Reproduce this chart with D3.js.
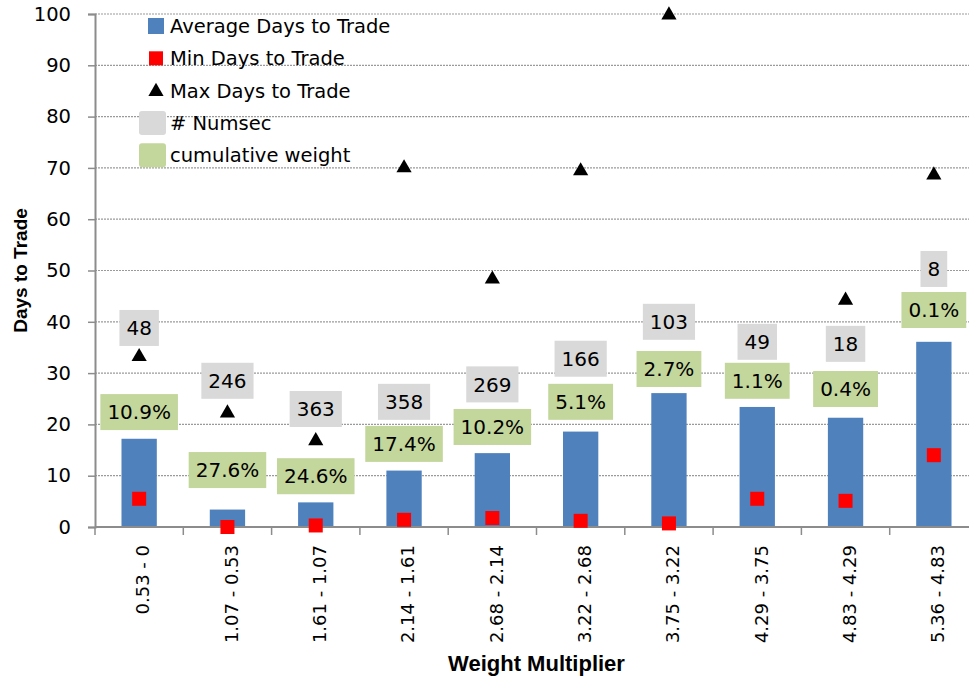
<!DOCTYPE html>
<html>
<head>
<meta charset="utf-8">
<script src="https://cdn.jsdelivr.net/npm/d3@7"></script>
<style>
  body { margin: 0; background: #fff; }
  svg { display: block; font-family: "DejaVu Sans", sans-serif; }
</style>
</head>
<body>
<script>
// chart values
var categories = ["0.53 - 0", "1.07 - 0.53", "1.61 - 1.07", "2.14 - 1.61", "2.68 - 2.14",
                  "3.22 - 2.68", "3.75 - 3.22", "4.29 - 3.75", "4.83 - 4.29", "5.36 - 4.83"];
var avgDays = [17.2, 3.4, 4.8, 11.0, 14.4, 18.6, 26.1, 23.4, 21.3, 36.1];
var minDays = [5.5, 0, 0.3, 1.4, 1.75, 1.2, 0.7, 5.5, 5.1, 14.0];
var maxDays = [33.2, 22.2, 16.8, 70, 48.3, 69.4, 99.8, null, 44.2, 68.6];
var numsec = [48, 246, 363, 358, 269, 166, 103, 49, 18, 8];
var cumWeight = [10.9, 27.6, 24.6, 17.4, 10.2, 5.1, 2.7, 1.1, 0.4, 0.1];
// where the label boxes sit, in days (hidden anchor series)
var numsecLabelAt = [38.8, 28.5, 23.0, 24.4, 27.8, 32.8, 40.0, 36.1, 35.7, 50.3];
var weightLabelAt = [22.4, 11.1, 9.9, 16.2, 19.5, 24.4, 30.8, 28.5, 26.9, 42.3];
var yTicks = [0, 10, 20, 30, 40, 50, 60, 70, 80, 90, 100];

var svgWidth = 969, svgHeight = 677;
var plotLeft = 95, plotRight = 978, plotTop = 14, plotBottom = 527;

var svg = d3.select("body").append("svg")
    .attr("width", svgWidth)
    .attr("height", svgHeight);

var xScale = d3.scaleBand()
    .domain(categories)
    .range([plotLeft, plotRight])
    .paddingInner(0.6)
    .paddingOuter(0.3);
var band = d3.scaleBand().domain(categories).range([plotLeft, plotRight]);
var yScale = d3.scaleLinear()
    .domain([0, 100])
    .range([plotBottom, plotTop]);

function cx(i) { return band(categories[i]) + band.bandwidth() / 2; }

// gridlines
svg.append("g").selectAll("line")
    .data(yTicks.filter(function(d){ return d > 0; }))
    .enter().append("line")
    .attr("x1", plotLeft).attr("x2", plotRight)
    .attr("y1", function(d){ return yScale(d); })
    .attr("y2", function(d){ return yScale(d); })
    .attr("stroke", "#9a9a9a")
    .attr("stroke-width", 1.2)
    .attr("stroke-dasharray", "2,1");

// y axis
var yAxis = svg.append("g")
    .attr("transform", "translate(" + plotLeft + ",0)")
    .call(d3.axisLeft(yScale).tickValues(yTicks).tickSize(7).tickPadding(17));
yAxis.select(".domain").attr("stroke", "#8c8c8c").attr("stroke-width", 2);
yAxis.selectAll(".tick line").attr("stroke", "#8c8c8c").attr("stroke-width", 1.5);
yAxis.selectAll(".tick text")
    .attr("font-family", "DejaVu Sans")
    .attr("font-size", "19.5px")
    .attr("fill", "#000");

// bars
svg.append("g").selectAll("rect")
    .data(avgDays)
    .enter().append("rect")
    .attr("x", function(d, i){ return xScale(categories[i]); })
    .attr("y", function(d){ return yScale(d); })
    .attr("width", xScale.bandwidth())
    .attr("height", function(d){ return plotBottom - yScale(d); })
    .attr("fill", "#4f81bd");

// x axis
svg.append("line")
    .attr("x1", plotLeft).attr("x2", plotRight)
    .attr("y1", plotBottom).attr("y2", plotBottom)
    .attr("stroke", "#8c8c8c").attr("stroke-width", 2);
svg.append("g").selectAll("line")
    .data(categories.concat(["end"]))
    .enter().append("line")
    .attr("x1", function(d, i){ return plotLeft + i * band.step(); })
    .attr("x2", function(d, i){ return plotLeft + i * band.step(); })
    .attr("y1", plotBottom).attr("y2", plotBottom + 8)
    .attr("stroke", "#8c8c8c").attr("stroke-width", 1.5);
svg.append("g").selectAll("text")
    .data(categories)
    .enter().append("text")
    .attr("transform", function(d, i){ return "translate(" + (cx(i) + 4) + "," + (plotBottom + 18) + ") rotate(-90)"; })
    .attr("text-anchor", "end")
    .attr("dy", "0.35em")
    .attr("font-size", "18px")
    .text(function(d){ return d; });

// min squares
svg.append("g").selectAll("rect")
    .data(minDays)
    .enter().append("rect")
    .attr("x", function(d, i){ return cx(i) - 7; })
    .attr("y", function(d){ return yScale(d) - 7; })
    .attr("width", 14).attr("height", 14)
    .attr("fill", "#ff0000");

// max triangles
var tri = d3.symbol().type(d3.symbolTriangle).size(100);
svg.append("g").selectAll("path")
    .data(maxDays.map(function(d, i){ return {v: d, i: i}; }).filter(function(d){ return d.v !== null; }))
    .enter().append("path")
    .attr("d", tri)
    .attr("transform", function(d){ return "translate(" + cx(d.i) + "," + yScale(d.v) + ")"; })
    .attr("fill", "#000");

// boxed data labels
function boxLabels(values, anchors, fmt, color) {
    var g = svg.append("g");
    values.forEach(function(v, i) {
        var lab = g.append("g")
            .attr("transform", "translate(" + cx(i) + "," + yScale(anchors[i]) + ")");
        var r = lab.append("rect").attr("fill", color);
        var t = lab.append("text")
            .attr("text-anchor", "middle")
            .attr("dy", "0.36em")
            .attr("font-size", "20px")
            .attr("fill", "#000")
            .text(fmt(v));
        var w = t.node().getComputedTextLength() + 14;
        r.attr("x", -w / 2).attr("y", -18).attr("width", w).attr("height", 36);
    });
}
boxLabels(numsec, numsecLabelAt, function(d){ return d; }, "#d9d9d9");
boxLabels(cumWeight, weightLabelAt, function(d){ return d.toFixed(1) + "%"; }, "#c3d69b");

// legend
var legendItems = ["Average Days to Trade", "Min Days to Trade", "Max Days to Trade", "# Numsec", "cumulative weight"];
var legend = svg.append("g");
legendItems.forEach(function(name, i) {
    var y = 26 + i * 32.3;
    var item = legend.append("g").attr("transform", "translate(0," + y + ")");
    if (i === 0) item.append("rect").attr("x", 148).attr("y", -8).attr("width", 16).attr("height", 16).attr("fill", "#4f81bd");
    if (i === 1) item.append("rect").attr("x", 149).attr("y", -7).attr("width", 14).attr("height", 14).attr("fill", "#ff0000");
    if (i === 2) item.append("path").attr("d", tri).attr("transform", "translate(156,1)").attr("fill", "#000");
    if (i === 3) item.append("rect").attr("x", 139).attr("y", -12).attr("width", 27).attr("height", 24).attr("rx", 3).attr("fill", "#d9d9d9");
    if (i === 4) item.append("rect").attr("x", 139).attr("y", -12).attr("width", 27).attr("height", 24).attr("rx", 3).attr("fill", "#c3d69b");
    item.append("text")
        .attr("x", 170)
        .attr("dy", "0.36em")
        .attr("font-size", "19.5px")
        .text(name);
});

// axis titles
svg.append("text")
    .attr("transform", "translate(27," + ((plotTop + plotBottom) / 2) + ") rotate(-90)")
    .attr("text-anchor", "middle")
    .attr("font-family", "Liberation Sans")
    .attr("font-weight", "bold")
    .attr("font-size", "19px")
    .text("Days to Trade");
svg.append("text")
    .attr("x", (plotLeft + plotRight) / 2)
    .attr("y", 671)
    .attr("text-anchor", "middle")
    .attr("font-family", "Liberation Sans")
    .attr("font-weight", "bold")
    .attr("font-size", "22px")
    .text("Weight Multiplier");
</script>
</body>
</html>
